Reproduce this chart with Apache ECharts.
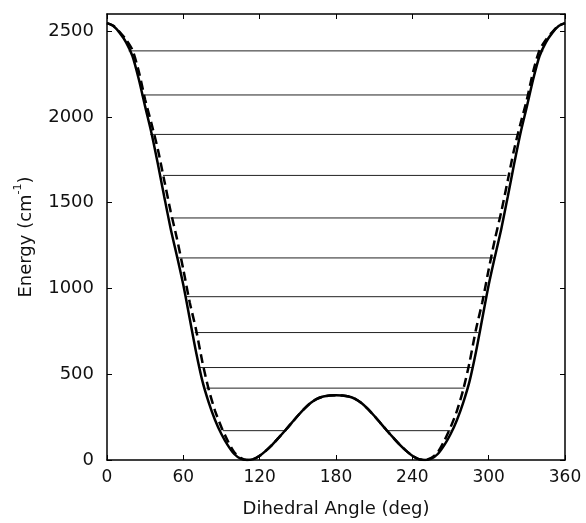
<!DOCTYPE html>
<html>
<head>
<meta charset="utf-8">
<title>Torsional potential</title>
<script src="https://cdn.jsdelivr.net/npm/echarts@6/dist/echarts.min.js"></script>
<style>
  html, body { margin: 0; background: #fff; }
  #chart { width: 586px; height: 523px; }
</style>
</head>
<body>
<div id="chart"></div>
<script>
// dihedral angles (deg)
var angles = [0, 5, 10, 15, 20, 25, 30, 35, 40, 45, 50, 55, 60, 65, 70, 75, 80, 85, 90,
  95, 100, 105, 110, 115, 120, 125, 130, 135, 140, 145, 150, 155, 160, 165, 170, 175, 180,
  185, 190, 195, 200, 205, 210, 215, 220, 225, 230, 235, 240, 245, 250, 255, 260, 265, 270,
  275, 280, 285, 290, 295, 300, 305, 310, 315, 320, 325, 330, 335, 340, 345, 350, 355, 360];

// solid potential curve (cm-1)
var solidEnergy = [2547, 2530, 2490, 2435, 2355, 2220, 2060, 1905, 1725, 1535, 1350, 1188, 1020, 825, 630, 460, 335, 232, 150,
  85, 35, 8, 0, 5, 25, 55, 90, 130, 172, 215, 258, 298, 332, 356, 370, 376, 377,
  376, 370, 356, 332, 298, 258, 215, 172, 130, 90, 55, 25, 5, 0, 8, 35, 85, 150,
  232, 335, 460, 630, 825, 1020, 1188, 1350, 1535, 1725, 1905, 2060, 2220, 2355, 2435, 2490, 2530, 2547];

// dashed potential curve (cm-1)
var dashedEnergy = [2547, 2532, 2495, 2450, 2390, 2265, 2100, 1960, 1810, 1630, 1450, 1290, 1110, 920, 760, 570, 410, 285, 190,
  110, 45, 12, 0, 5, 25, 55, 90, 130, 172, 215, 258, 298, 332, 356, 370, 376, 377,
  376, 370, 356, 332, 298, 258, 215, 172, 130, 90, 55, 25, 5, 0, 12, 45, 110, 190,
  285, 410, 570, 760, 920, 1110, 1290, 1450, 1630, 1810, 1960, 2100, 2265, 2390, 2450, 2495, 2532, 2547];

// torsional levels: energy and angular extent of each drawn segment
var levelEnergy = [2385, 2128, 1898, 1659, 1411, 1178, 952, 743, 539, 419, 171, 171];
var levelFrom   = [17, 27, 34, 44, 50, 56, 62, 69, 73, 78, 91, 219];
var levelTo     = [343, 332, 323, 314, 310, 305, 298, 292, 287, 281, 141, 270];

var xTicks = { min: 0, max: 360, interval: 60 };
var yTicks = { min: 0, max: 2600, interval: 500 };

var font = 'DejaVu Sans';
var chart = echarts.init(document.getElementById('chart'));

var series = [];
levelEnergy.forEach(function (e, i) {
  series.push({
    type: 'line',
    data: [[levelFrom[i], e], [levelTo[i], e]],
    symbol: 'none',
    silent: true,
    lineStyle: { color: '#222', width: 1 },
    z: 1
  });
});
series.push({
  name: 'solid',
  type: 'line',
  data: angles.map(function (a, i) { return [a, solidEnergy[i]]; }),
  symbol: 'none',
  smooth: 0.25,
  lineStyle: { color: '#000', width: 2.5 },
  z: 3
});
series.push({
  name: 'dashed',
  type: 'line',
  data: angles.map(function (a, i) { return [a, dashedEnergy[i]]; }),
  symbol: 'none',
  smooth: 0.25,
  lineStyle: { color: '#000', width: 2.5, type: [9, 5] },
  z: 2
});

var boxLine = { onZero: false, lineStyle: { color: '#000', width: 1.5 } };
var tickIn = { inside: true, length: 5, lineStyle: { color: '#000', width: 1 } };
var plain = function (v) { return String(v); };

chart.setOption({
  animation: false,
  backgroundColor: '#fff',
  grid: { left: 107, right: 21, top: 14, bottom: 61 },
  xAxis: [{
    type: 'value', min: xTicks.min, max: xTicks.max, interval: xTicks.interval,
    position: 'bottom',
    axisLine: boxLine, axisTick: tickIn, splitLine: { show: false },
    axisLabel: { margin: 9, fontSize: 17, color: '#111', fontFamily: font, formatter: plain },
    name: 'Dihedral Angle (deg)', nameLocation: 'middle', nameGap: 40,
    nameTextStyle: { fontSize: 18, color: '#111', fontFamily: font }
  }, {
    type: 'value', min: xTicks.min, max: xTicks.max, interval: xTicks.interval,
    position: 'top',
    axisLine: boxLine, axisTick: tickIn, splitLine: { show: false },
    axisLabel: { show: false }
  }],
  yAxis: [{
    type: 'value', min: yTicks.min, max: yTicks.max, interval: yTicks.interval,
    position: 'left',
    axisLine: boxLine, axisTick: tickIn, splitLine: { show: false },
    axisLabel: { margin: 13, fontSize: 18, color: '#111', fontFamily: font, showMaxLabel: false, formatter: plain },
    name: '{t|Energy (cm}{s|-1}{t|)}', nameLocation: 'middle', nameGap: 72,
    nameTextStyle: {
      color: '#111', fontFamily: font,
      rich: {
        t: { fontSize: 18, color: '#111', fontFamily: font, lineHeight: 22, verticalAlign: 'bottom' },
        s: { fontSize: 11, color: '#111', fontFamily: font, verticalAlign: 'top', lineHeight: 22 }
      }
    }
  }, {
    type: 'value', min: yTicks.min, max: yTicks.max, interval: yTicks.interval,
    position: 'right',
    axisLine: boxLine, axisTick: tickIn, splitLine: { show: false },
    axisLabel: { show: false }
  }],
  series: series
});
</script>
</body>
</html>
